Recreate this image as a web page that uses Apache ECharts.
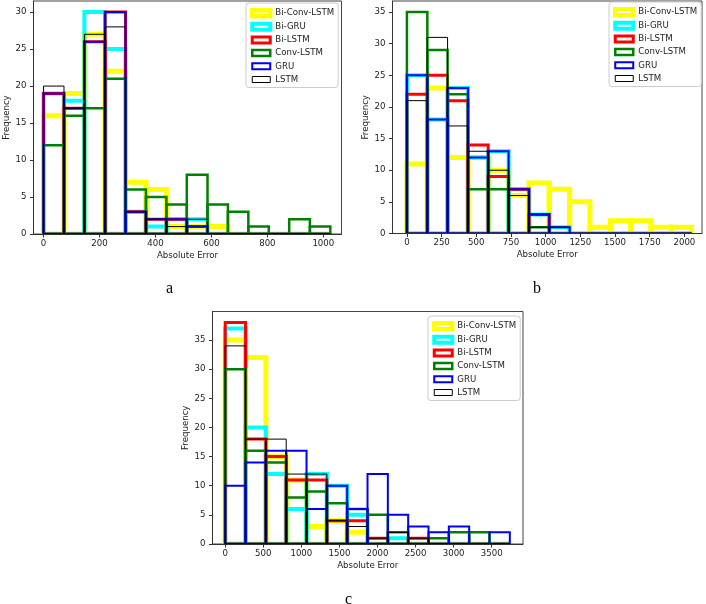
<!DOCTYPE html>
<html>
<head>
<meta charset="utf-8">
<script src="https://cdn.jsdelivr.net/npm/echarts@6/dist/echarts.min.js"></script>
<style>
html,body{margin:0;padding:0;background:#fff;}
#chart{width:706px;height:604px;}
</style>
</head>
<body>
<div id="chart"></div>
<script>
// ---------- data ----------
const seriesNames = ['Bi-Conv-LSTM', 'Bi-GRU', 'Bi-LSTM', 'Conv-LSTM', 'GRU', 'LSTM'];

// panel a
const binEdgesA = [0, 73, 146, 220, 293, 366, 439, 512, 586, 659, 732, 805, 878, 952, 1025];
const biConvLstmA = [16, 19, 27, 22, 7, 6, 1, 1, 1, 0, 0, 0, 0, 0];
const biGruA      = [19, 18, 30, 25, 3, 1, 2, 2, 0, 0, 0, 0, 0, 0];
const biLstmA     = [19, 17, 26, 30, 3, 2, 2, 1, 0, 0, 0, 0, 0, 0];
const convLstmA   = [12, 16, 17, 21, 6, 5, 4, 8, 4, 3, 1, 0, 2, 1];
const gruA        = [19, 17, 26, 30, 3, 2, 2, 1, 0, 0, 0, 0, 0, 0];
const lstmA       = [20, 17, 27, 28, 3, 2, 1, 2, 0, 0, 0, 0, 0, 0];
const xTicksA = [0, 200, 400, 600, 800, 1000];
const yTicksA = [0, 5, 10, 15, 20, 25, 30];

// panel b
const binEdgesB = [0, 147, 293, 440, 586, 733, 880, 1026, 1173, 1319, 1466, 1613, 1759, 1906, 2052];
const biConvLstmB = [11, 23, 12, 12, 10, 6, 8, 7, 5, 1, 2, 2, 1, 1];
const biGruB      = [25, 18, 23, 12, 13, 7, 3, 1, 0, 0, 0, 0, 0, 0];
const biLstmB     = [22, 25, 21, 14, 9, 7, 3, 0, 0, 0, 0, 0, 0, 0];
const convLstmB   = [35, 29, 22, 7, 7, 0, 1, 0, 0, 0, 0, 0, 0, 0];
const gruB        = [25, 18, 23, 12, 13, 7, 3, 1, 0, 0, 0, 0, 0, 0];
const lstmB       = [21, 31, 17, 13, 10, 6, 1, 1, 0, 0, 0, 0, 0, 0];
const xTicksB = [0, 250, 500, 750, 1000, 1250, 1500, 1750, 2000];
const yTicksB = [0, 5, 10, 15, 20, 25, 30, 35];

// panel c
const binEdgesC = [0, 267, 534, 801, 1068, 1335, 1602, 1869, 2136, 2403, 2670, 2937, 3204, 3471, 3738];
const biConvLstmC = [35, 32, 15, 11, 3, 4, 2, 0, 0, 0, 0, 0, 0, 0];
const biGruC      = [37, 20, 12, 6, 12, 10, 5, 0, 1, 0, 0, 0, 0, 0];
const biLstmC     = [38, 18, 15, 11, 11, 4, 4, 1, 0, 1, 0, 0, 0, 0];
const convLstmC   = [30, 16, 14, 8, 9, 7, 6, 5, 2, 0, 1, 2, 2, 0];
const gruC        = [10, 14, 16, 16, 6, 10, 6, 12, 5, 3, 2, 3, 0, 2];
const lstmC       = [34, 18, 18, 12, 12, 4, 3, 1, 2, 1, 0, 0, 0, 0];
const xTicksC = [0, 500, 1000, 1500, 2000, 2500, 3000, 3500];
const yTicksC = [0, 5, 10, 15, 20, 25, 30, 35];

const panelLabels = ['a', 'b', 'c'];

// ---------- styles ----------
const colors = ['#ffff00', '#00ffff', '#ff0000', '#008000', '#0000ee', '#000000'];
const lineWidths = [5, 4, 3, 2.5, 2, 1];
const legendWidths = [4.5, 4, 3, 2.5, 2, 1];
const FONT = 'DejaVu Sans';
const FS = 8.6;

const panels = [
  { edges: binEdgesA, values: [biConvLstmA, biGruA, biLstmA, convLstmA, gruA, lstmA],
    xTicks: xTicksA, yTicks: yTicksA,
    grid: { left: 33.5, top: 1, width: 308, height: 233 },
    xMin: -36, xMax: 1065, yMax: 31.5, yNameGap: 22,
    legend: { left: 246, top: 3 } },
  { edges: binEdgesB, values: [biConvLstmB, biGruB, biLstmB, convLstmB, gruB, lstmB],
    xTicks: xTicksB, yTicks: yTicksB,
    grid: { left: 392.5, top: 1, width: 309.5, height: 232.5 },
    xMin: -104, xMax: 2127, yMax: 36.75, yNameGap: 17,
    legend: { left: 609, top: 2 } },
  { edges: binEdgesC, values: [biConvLstmC, biGruC, biLstmC, convLstmC, gruC, lstmC],
    xTicks: xTicksC, yTicks: yTicksC,
    grid: { left: 212.5, top: 311.5, width: 310.5, height: 232.5 },
    xMin: -167, xMax: 3911, yMax: 39.9, yNameGap: 17,
    legend: { left: 428, top: 316 } }
];

const plain = v => String(v);
const grids = [], xAxes = [], yAxes = [], legends = [], series = [];

panels.forEach((p, pi) => {
  grids.push(Object.assign({ show: true, borderColor: '#444', borderWidth: 1, backgroundColor: 'transparent' }, p.grid));
  xAxes.push({
    type: 'value', gridIndex: pi, min: p.xMin, max: p.xMax, z: 5,
    axisLine: { show: true, onZero: false, lineStyle: { color: '#333', width: 1 } },
    axisTick: { show: true, length: 3.5, customValues: p.xTicks, lineStyle: { color: '#333' } },
    axisLabel: { customValues: p.xTicks, formatter: plain, fontSize: FS, color: '#222', fontFamily: FONT, margin: 5 },
    splitLine: { show: false },
    name: 'Absolute Error', nameLocation: 'middle', nameGap: 17,
    nameTextStyle: { fontSize: FS, color: '#222', fontFamily: FONT }
  });
  yAxes.push({
    type: 'value', gridIndex: pi, min: 0, max: p.yMax, z: 5,
    axisLine: { show: true, onZero: false, lineStyle: { color: '#333', width: 1 } },
    axisTick: { show: true, length: 3.5, customValues: p.yTicks, lineStyle: { color: '#333' } },
    axisLabel: { customValues: p.yTicks, formatter: plain, fontSize: FS, color: '#222', fontFamily: FONT, margin: 7 },
    splitLine: { show: false },
    name: 'Frequency', nameLocation: 'middle', nameGap: p.yNameGap,
    nameTextStyle: { fontSize: FS, color: '#222', fontFamily: FONT }
  });
  legends.push({
    orient: 'vertical', left: p.legend.left, top: p.legend.top,
    selectedMode: false,
    data: seriesNames.map((n, k) => ({
      name: n, icon: 'rect',
      itemStyle: { color: '#ffffff', borderColor: colors[k], borderWidth: legendWidths[k] }
    })),
    itemWidth: 18, itemHeight: 6, itemGap: 3.2,
    padding: [5, 4, 3, 4],
    borderColor: '#cccccc', borderWidth: 1, borderRadius: 3,
    backgroundColor: 'rgba(255,255,255,0.8)',
    textStyle: { fontSize: FS, color: '#222', fontFamily: FONT, lineHeight: 10 }
  });
  p.values.forEach((vals, k) => {
    const data = vals.map((v, i) => [p.edges[i], p.edges[i + 1], v]);
    series.push({
      type: 'custom', name: seriesNames[k],
      xAxisIndex: pi, yAxisIndex: pi, clip: true,
      itemStyle: { color: colors[k] },
      encode: { x: [0, 1], y: 2 },
      data: data,
      renderItem: function (params, api) {
        const x0 = api.value(0), x1 = api.value(1), v = api.value(2);
        const pTop = api.coord([x0, v]);
        const pBot = api.coord([x1, 0]);
        return {
          type: 'rect',
          shape: { x: pTop[0], y: pTop[1], width: pBot[0] - pTop[0], height: pBot[1] - pTop[1] },
          style: { fill: 'none', stroke: colors[k], lineWidth: lineWidths[k] },
          silent: true
        };
      }
    });
  });
});

const titles = [
  { text: panelLabels[0], left: 166, top: 281 },
  { text: panelLabels[1], left: 533, top: 281 },
  { text: panelLabels[2], left: 345, top: 592 }
].map(t => Object.assign(t, {
  padding: 0,
  textStyle: { fontFamily: 'Liberation Serif', fontSize: 16, fontWeight: 'normal', color: '#000' }
}));

const chart = echarts.init(document.getElementById('chart'), null, { renderer: 'canvas' });
chart.setOption({
  animation: false,
  backgroundColor: '#ffffff',
  title: titles,
  grid: grids,
  xAxis: xAxes,
  yAxis: yAxes,
  legend: legends,
  series: series
});
</script>
</body>
</html>
